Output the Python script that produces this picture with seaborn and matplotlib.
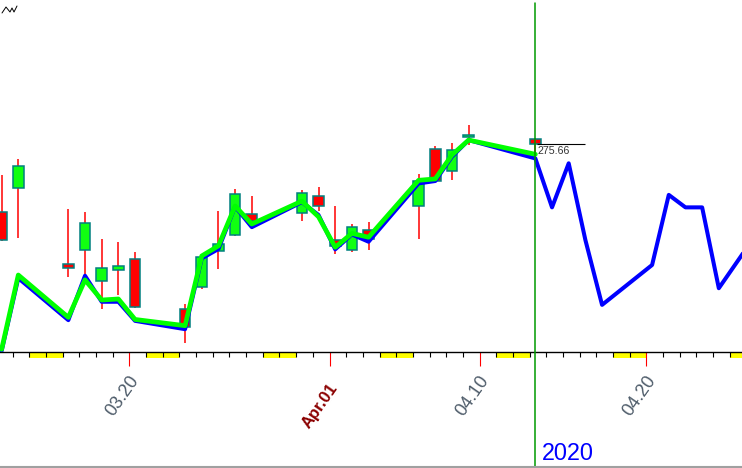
import pandas as pd
import numpy as np
import matplotlib
matplotlib.use("Agg")
import matplotlib.pyplot as plt
import matplotlib.transforms as mtransforms
from matplotlib.lines import Line2D
from matplotlib.patches import Rectangle
import seaborn as sns

# candles (daily OHLC)
candle_dates = ["2020-03-12", "2020-03-13", "2020-03-16", "2020-03-17", "2020-03-18",
                "2020-03-19", "2020-03-20", "2020-03-23", "2020-03-24", "2020-03-25",
                "2020-03-26", "2020-03-27", "2020-03-30", "2020-03-31", "2020-04-01",
                "2020-04-02", "2020-04-03", "2020-04-06", "2020-04-07", "2020-04-08",
                "2020-04-09", "2020-04-13"]
opens = [255.94, 263.09, 241.18, 245.04, 236.25, 239.25, 242.53, 228.19, 234.42, 244.87, 249.52,
         255.52, 255.83, 260.56, 247.98, 245.19, 250.76, 257.84, 274.21, 267.96, 277.58, 277.14]
highs = [266.66, 271.48, 256.90, 256.17, 248.37, 247.38, 244.47, 229.68, 244.10, 256.35, 262.80,
         260.81, 262.43, 263.33, 257.66, 252.68, 253.32, 267.00, 275.03, 276.00, 281.20, 277.51]
lows = [247.68, 248.52, 237.36, 237.07, 228.02, 232.22, 228.50, 218.26, 233.80, 239.50, 249.05,
        251.05, 253.53, 256.22, 243.90, 244.59, 245.22, 248.17, 264.89, 265.25, 275.47, 271.41]
closes = [248.11, 269.32, 239.85, 252.80, 240.00, 240.51, 228.80, 222.95, 243.15, 246.79, 261.20,
          253.42, 261.65, 257.75, 246.15, 251.83, 248.19, 264.86, 265.13, 274.03, 278.20, 275.66]

# green line (same days as candles)
green_vals = [216.5, 237.9, 225.7, 236.5, 230.7, 231.0, 225.1, 223.3, 243.4, 246.3, 257.8,
              252.6, 259.2, 254.7, 245.9, 249.9, 248.8, 265.2, 265.6, 272.5, 276.8, 272.7]

# blue line (candle days plus projection)
blue_dates = candle_dates + ["2020-04-14", "2020-04-15", "2020-04-16", "2020-04-17", "2020-04-20",
                             "2020-04-21", "2020-04-22", "2020-04-23", "2020-04-24", "2020-04-27"]
blue_vals = [216.0, 237.0, 224.9, 237.7, 230.2, 230.2, 224.7, 222.3, 242.7, 245.4, 257.6,
             251.7, 258.9, 255.2, 245.3, 249.6, 247.5, 264.3, 265.0, 272.0, 276.8, 271.5,
             257.4, 270.1, 248.0, 229.3, 240.8, 261.0, 257.4, 257.4, 234.1, 254.9]

label_dates = ["2020-03-20", "2020-04-01", "2020-04-10", "2020-04-20"]
label_texts = ["03.20", "Apr.01", "04.10", "04.20"]
last_price = 275.66
year_text = "2020"

origin = pd.Timestamp("2020-03-12")
def to_day(ds):
    return np.array([(pd.Timestamp(d) - origin).days for d in ds], dtype=float)

cx = to_day(candle_dates)
bx = to_day(blue_dates)
lx = to_day(label_dates)

sns.set_style("white")
plt.rcParams["font.family"] = ["Liberation Sans", "DejaVu Sans"]

fig = plt.figure(figsize=(7.42, 4.68), dpi=100)
ax = fig.add_axes([0, 116 / 468, 1, 352 / 468])

o = np.array(opens); c = np.array(closes)
up = c >= o
ax.vlines(cx, lows, highs, color="#ff0000", linewidth=1.1, zorder=1)
ax.bar(cx, np.maximum(np.abs(c - o), 0.45), bottom=np.minimum(o, c), width=0.64,
       color=np.where(up, "#11ff11", "#ff0000"), edgecolor="#008080", linewidth=1.1, zorder=2)

sns.lineplot(x=bx, y=blue_vals, ax=ax, color="#0000ff", linewidth=2.9, estimator=None,
             sort=False, zorder=3)
sns.lineplot(x=cx, y=green_vals, ax=ax, color="#00ff00", linewidth=3.4, estimator=None,
             sort=False, zorder=4)

x_last = cx[-1]
ax.hlines(last_price, x_last + 0.08, x_last + 3.0, color="black", linewidth=0.8, zorder=5)
ax.annotate(f"{last_price:.2f}", xy=(x_last, last_price), xytext=(1.3, -7.4),
            textcoords="offset points", ha="left", va="baseline", fontsize=7.7, color="#333333")

trans = mtransforms.blended_transform_factory(ax.transData, ax.transAxes)
off = 0.34
# vertical marker at last candle
ax.plot([x_last, x_last], [1 - 3 / 352, -114 / 352], transform=trans, color="#009a00",
        linewidth=1.1, clip_on=False, zorder=6)

# weekend bands
all_days = pd.date_range("2020-03-11", "2020-04-28")
for d in all_days:
    if d.dayofweek == 5:
        dd = (d - origin).days
        ax.add_patch(Rectangle((dd - off, -6 / 352), 2, 6 / 352, transform=trans,
                               facecolor="#ffff00", edgecolor="none", clip_on=False, zorder=0.5))

day_nums = np.array([(d - origin).days for d in all_days], dtype=float)
ax.set_xticks(lx - off)
ax.set_xticks(day_nums - off, minor=True)
ax.set_xticklabels([])
ax.set_yticks([])
ax.tick_params(axis="x", which="minor", bottom=True, length=3.6, width=0.8, color="black")
ax.tick_params(axis="x", which="major", bottom=True, length=10, width=0.8, color="#ff0000")
for s in ["top", "left", "right"]:
    ax.spines[s].set_visible(False)
ax.spines["bottom"].set_color("black")
ax.spines["bottom"].set_linewidth(1.0)

# limits after ticks so set_xticks does not widen the view
ax.set_xlim(-0.097, 44.39)
ax.set_ylim(215.72, 317.16)

for x, t in zip(lx, label_texts):
    if t.startswith("Apr"):
        ax.text(x - off - 0.05, -29 / 352, t, transform=trans, rotation=55, rotation_mode="anchor",
                ha="right", va="top", fontsize=12, fontweight="bold", color="#8b0000")
    else:
        ax.text(x - off - 0.05, -21 / 352, t, transform=trans, rotation=55, rotation_mode="anchor",
                ha="right", va="top", fontsize=13, color="#4d5b69")

fig.text(542 / 742, 8 / 468, year_text, ha="left", va="baseline", fontsize=16.8, color="#0000ff")

# small icon at the top-left and bottom border
icon_x = np.array([2, 6, 10, 12, 14, 17]) / 742
icon_y = 1 - np.array([13, 7, 12, 8, 12, 6]) / 468
fig.add_artist(Line2D(icon_x, icon_y, color="black", linewidth=0.7))
fig.add_artist(Line2D([0, 1], [1.5 / 468, 1.5 / 468], color="#a0a0a0", linewidth=1.5))

fig.savefig("out.png", dpi=100)
